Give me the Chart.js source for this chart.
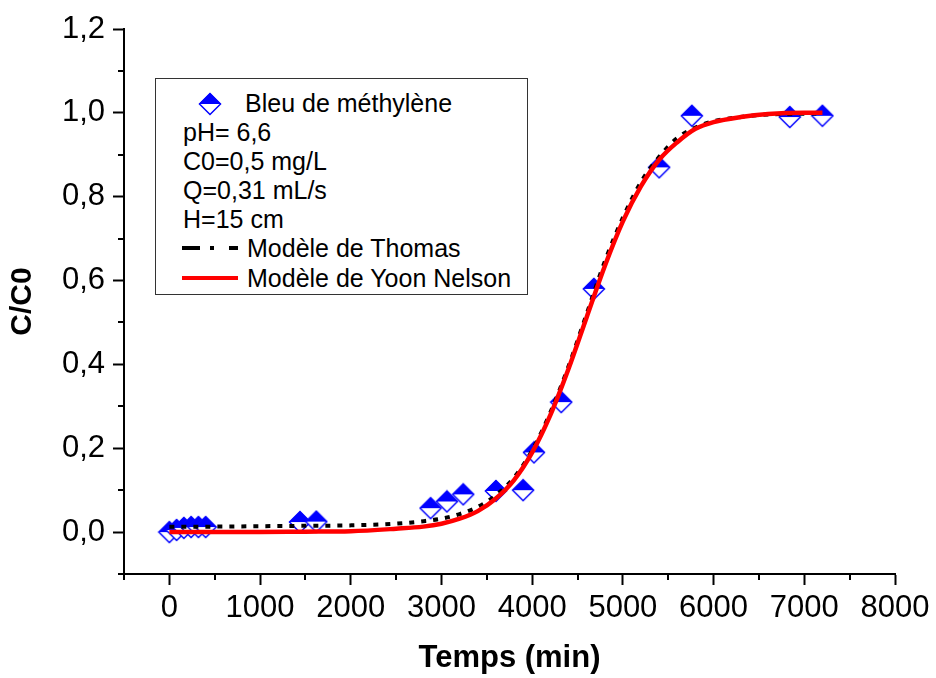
<!DOCTYPE html>
<html>
<head>
<meta charset="utf-8">
<script src="https://cdn.jsdelivr.net/npm/chart.js@4/dist/chart.umd.min.js"></script>
<style>
  body { margin: 0; background: #fff; }
  #wrap { position: relative; width: 936px; height: 678px; font-family: "Liberation Sans", Arial, sans-serif; }
  #legend { position: absolute; left: 155px; top: 78px; width: 371px; height: 215px; border: 1px solid #333; background: #fff; }
  .lg { position: absolute; font-size: 25px; line-height: 25px; color: #000; white-space: nowrap; }
</style>
</head>
<body>
<div id="wrap">
  <canvas id="chart" width="936" height="678"></canvas>
  <div id="legend"></div>
</div>
<script>
// Measured points (time in min, C/C0)
const timeData = [0, 80, 160, 240, 320, 400, 1440, 1620, 2880, 3060, 3240, 3600, 3900, 4020, 4320, 4680, 5400, 5760, 6840, 7200];
const ratioData = [0, 0.005, 0.01, 0.012, 0.012, 0.012, 0.024, 0.025, 0.057, 0.073, 0.09, 0.098, 0.1, 0.19, 0.31, 0.58, 0.87, 0.993, 0.99, 0.993];

// Model curves
const modelTime = [0, 500, 1000, 1500, 2000, 2500, 2800, 3000, 3200, 3400, 3600, 3800, 4000, 4200, 4400, 4600, 4800, 5000, 5200, 5400, 5600, 5800, 6000, 6300, 6600, 7000, 7200];
const thomasData = [0.013, 0.013, 0.014, 0.015, 0.016, 0.02, 0.026, 0.032, 0.043, 0.06, 0.088, 0.13, 0.195, 0.285, 0.395, 0.52, 0.645, 0.75, 0.835, 0.895, 0.94, 0.965, 0.98, 0.99, 0.996, 0.998, 0.999];
const yoonData = [0, 0, 0, 0.001, 0.002, 0.008, 0.013, 0.02, 0.032, 0.05, 0.08, 0.124, 0.19, 0.279, 0.389, 0.512, 0.634, 0.741, 0.825, 0.888, 0.93, 0.962, 0.978, 0.99, 0.997, 1.0, 1.0];

// Axis ticks
const xTicks = [0, 1000, 2000, 3000, 4000, 5000, 6000, 7000, 8000];
const xMinor = [-500, 500, 1500, 2500, 3500, 4500, 5500, 6500, 7500];
const yTicks = [0, 0.2, 0.4, 0.6, 0.8, 1.0, 1.2];
const yMinor = [-0.1, 0.1, 0.3, 0.5, 0.7, 0.9, 1.1];

const legendTexts = ['Bleu de méthylène', 'pH= 6,6', 'C0=0,5 mg/L', 'Q=0,31 mL/s', 'H=15 cm', 'Modèle de Thomas', 'Modèle de Yoon Nelson'];

const BLUE = '#0000ff';
const RED = '#ff0000';
const FONT = '"Liberation Sans", Arial, sans-serif';

// half-filled diamond marker
function makeDiamond() {
    const c = document.createElement('canvas');
    c.width = 24; c.height = 24;
    const g = c.getContext('2d');
    g.beginPath();
    g.moveTo(12, 1); g.lineTo(23, 12); g.lineTo(12, 23); g.lineTo(1, 12); g.closePath();
    g.fillStyle = '#fff';
    g.fill();
    g.beginPath();
    g.moveTo(12, 1); g.lineTo(23, 12); g.lineTo(1, 12); g.closePath();
    g.fillStyle = BLUE;
    g.fill();
    g.beginPath();
    g.moveTo(12, 1.5); g.lineTo(22.5, 12); g.lineTo(12, 22.5); g.lineTo(1.5, 12); g.closePath();
    g.strokeStyle = BLUE;
    g.lineWidth = 1.5;
    g.stroke();
    return c;
}

const diamond = makeDiamond();

function toXY(xs, ys) {
    return xs.map((x, i) => ({ x: x, y: ys[i] }));
}

// short minor ticks between the labelled ones
const minorTicks = {
    id: 'minorTicks',
    afterDraw(chart) {
        const { ctx, scales: { x, y } } = chart;
        ctx.save();
        ctx.strokeStyle = '#000';
        ctx.lineWidth = 2;
        xMinor.forEach(v => {
            const px = Math.round(x.getPixelForValue(v));
            ctx.beginPath();
            ctx.moveTo(px, x.top);
            ctx.lineTo(px, x.top + 6);
            ctx.stroke();
        });
        yMinor.forEach(v => {
            const py = Math.round(y.getPixelForValue(v));
            ctx.beginPath();
            ctx.moveTo(y.right, py);
            ctx.lineTo(y.right - 6, py);
            ctx.stroke();
        });
        ctx.restore();
    }
};

new Chart(document.getElementById('chart'), {
    type: 'scatter',
    data: {
        datasets: [
            {
                label: legendTexts[6],
                data: toXY(modelTime, yoonData),
                showLine: true,
                borderColor: RED,
                borderWidth: 4.5,
                pointRadius: 0,
                cubicInterpolationMode: 'monotone'
            },
            {
                label: legendTexts[5],
                data: toXY(modelTime, thomasData),
                showLine: true,
                borderColor: '#000',
                borderWidth: 4,
                borderDash: [5, 7],
                pointRadius: 0,
                cubicInterpolationMode: 'monotone'
            },
            {
                label: legendTexts[0],
                data: toXY(timeData, ratioData),
                pointStyle: diamond,
                pointRadius: 12
            }
        ]
    },
    options: {
        responsive: false,
        animation: false,
        layout: { padding: { left: 0, top: 29, right: 41, bottom: 0 } },
        plugins: {
            legend: { display: false },
            tooltip: { enabled: false }
        },
        scales: {
            x: {
                type: 'linear',
                min: -500,
                max: 8000,
                afterBuildTicks: (scale) => { scale.ticks = xTicks.map(v => ({ value: v })); },
                afterFit: (scale) => { scale.height = 104; },
                border: { color: '#000', width: 2 },
                grid: { drawOnChartArea: false, color: '#000', tickColor: '#000', tickLength: 11, tickWidth: 2 },
                ticks: {
                    color: '#000',
                    padding: 5,
                    maxRotation: 0,
                    autoSkip: false,
                    font: { family: FONT, size: 31 },
                    callback: (v) => String(v)
                },
                title: {
                    display: true,
                    text: 'Temps (min)',
                    color: '#000',
                    padding: { top: 0, bottom: 1 },
                    font: { family: FONT, size: 31, weight: 'bold' }
                }
            },
            y: {
                type: 'linear',
                min: -0.1,
                max: 1.2,
                afterBuildTicks: (scale) => { scale.ticks = yTicks.map(v => ({ value: v })); },
                afterFit: (scale) => { scale.width = 124; },
                border: { color: '#000', width: 2 },
                grid: { drawOnChartArea: false, color: '#000', tickColor: '#000', tickLength: 11, tickWidth: 2 },
                ticks: {
                    color: '#000',
                    padding: 8,
                    autoSkip: false,
                    font: { family: FONT, size: 31 },
                    callback: (v) => v.toFixed(1).replace('.', ',')
                },
                title: {
                    display: true,
                    text: 'C/C0',
                    color: '#000',
                    padding: { top: 5, bottom: 0 },
                    font: { family: FONT, size: 30, weight: 'bold' }
                }
            }
        }
    },
    plugins: [minorTicks]
});

// Legend box drawn as html on top of the chart
const legend = document.getElementById('legend');
const boxLeft = 155, boxTop = 78;
const rowY = [103, 132, 161, 190, 219, 248, 278];
const textX = [245, 183, 183, 183, 183, 247, 247];

legendTexts.forEach((t, i) => {
    const d = document.createElement('div');
    d.className = 'lg';
    d.textContent = t;
    d.style.left = (textX[i] - boxLeft - 1) + 'px';
    d.style.top = (rowY[i] - boxTop - 13) + 'px';
    legend.appendChild(d);
});

const mk = makeDiamond();
mk.style.position = 'absolute';
mk.style.left = (210 - boxLeft - 13) + 'px';
mk.style.top = (104 - boxTop - 13) + 'px';
legend.appendChild(mk);

function sampleLine(y, color, dash) {
    const ns = 'http://www.w3.org/2000/svg';
    const svg = document.createElementNS(ns, 'svg');
    svg.setAttribute('width', '58');
    svg.setAttribute('height', '10');
    svg.style.position = 'absolute';
    svg.style.left = (182 - boxLeft - 1) + 'px';
    svg.style.top = (y - boxTop - 6) + 'px';
    const line = document.createElementNS(ns, 'line');
    line.setAttribute('x1', '0');
    line.setAttribute('x2', '56');
    line.setAttribute('y1', '5');
    line.setAttribute('y2', '5');
    line.setAttribute('stroke', color);
    line.setAttribute('stroke-width', '4');
    if (dash) line.setAttribute('stroke-dasharray', dash);
    svg.appendChild(line);
    legend.appendChild(svg);
}

sampleLine(248, '#000', '18 10 4 15 9');
sampleLine(278, RED, null);
</script>
</body>
</html>
